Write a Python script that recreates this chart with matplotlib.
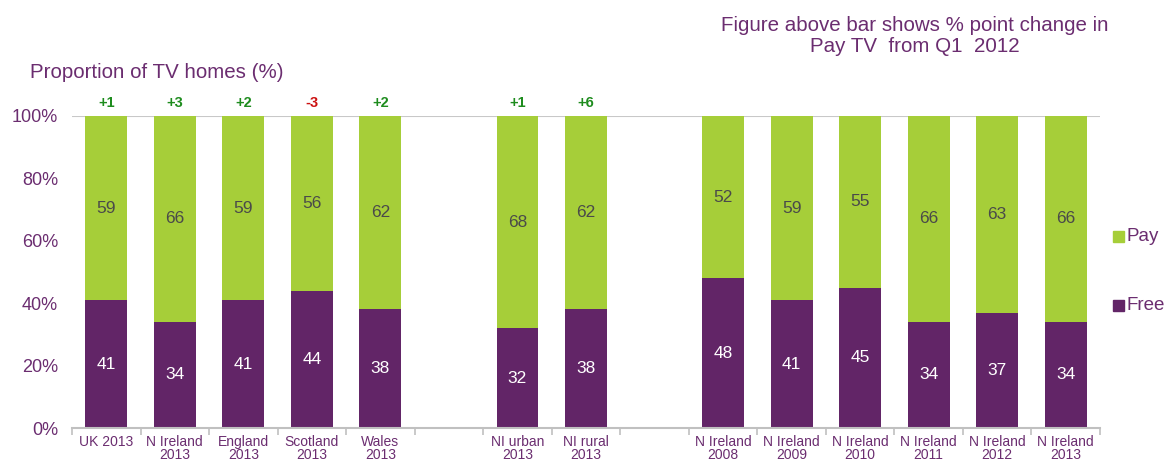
import matplotlib.pyplot as plt
import numpy as np

plt.rcParams['font.family'] = ['Liberation Sans', 'DejaVu Sans']

categories = ["UK 2013", "N Ireland\n2013", "England\n2013", "Scotland\n2013", "Wales\n2013",
              "", "NI urban\n2013", "NI rural\n2013", "",
              "N Ireland\n2008", "N Ireland\n2009", "N Ireland\n2010", "N Ireland\n2011",
              "N Ireland\n2012", "N Ireland\n2013"]
free = [41, 34, 41, 44, 38, None, 32, 38, None, 48, 41, 45, 34, 37, 34]
pay = [59, 66, 59, 56, 62, None, 68, 62, None, 52, 59, 55, 66, 63, 66]
change = ["+1", "+3", "+2", "-3", "+2", None, "+1", "+6", None, None, None, None, None, None, None]

PAY_COL = "#a6ce39"
FREE_COL = "#622567"
TXT_COL = "#6b2d70"

fig = plt.figure(figsize=(11.67, 4.61), dpi=100)
ax = fig.add_axes([72 / 1167, 33 / 461, 1028 / 1167, 312 / 461])

x = np.arange(len(categories))
for i in x:
    if free[i] is None:
        continue
    ax.bar(i, free[i], width=0.61, color=FREE_COL)
    ax.bar(i, pay[i], width=0.61, bottom=free[i], color=PAY_COL)
    ax.text(i, free[i] / 2, str(free[i]), ha='center', va='center', color='white', fontsize=12.5)
    ax.text(i, free[i] + pay[i] / 2, str(pay[i]), ha='center', va='center', color='#4a4a4a', fontsize=12.5)
    if change[i]:
        col = '#1e8c1e' if change[i].startswith('+') else '#cc1111'
        ax.text(i, 102, change[i], ha='center', va='bottom', color=col, fontsize=10.5, fontweight='bold')

ax.set_xlim(-0.5, len(categories) - 0.5)
ax.set_ylim(0, 100)
ax.set_yticks(range(0, 101, 20))
ax.set_yticklabels([f"{v}%" for v in range(0, 101, 20)], color=TXT_COL, fontsize=13)
ax.axhline(100, color='#c8c8c8', lw=1.5, zorder=0)

ax.set_xticks(x)
ax.set_xticklabels(categories, color=TXT_COL, fontsize=10, linespacing=0.88)
ax.set_xticks(np.arange(-0.5, len(categories), 1), minor=True)
ax.tick_params(axis='x', which='major', length=0, pad=5)
ax.tick_params(axis='x', which='minor', length=5, color='#c0c0c0', width=1.2)
ax.tick_params(axis='y', length=0, pad=10)

for s in ['top', 'right', 'left']:
    ax.spines[s].set_visible(False)
ax.spines['bottom'].set_color('#c0c0c0')
ax.spines['bottom'].set_linewidth(1.5)

fig.text(30 / 1167, 1 - 73 / 461, "Proportion of TV homes (%)", color=TXT_COL, fontsize=14.8, va='center')
fig.text(915 / 1167, 1 - 36 / 461, "Figure above bar shows % point change in\nPay TV  from Q1  2012",
         color=TXT_COL, fontsize=14.8, ha='center', va='center', linespacing=1.15)

# legend
fig.patches.append(plt.Rectangle((1113 / 1167, 1 - 242 / 461), 11 / 1167, 11 / 461,
                                 transform=fig.transFigure, color=PAY_COL))
fig.text(1127 / 1167, 1 - 236 / 461, "Pay", color=TXT_COL, fontsize=13.5, va='center')
fig.patches.append(plt.Rectangle((1113 / 1167, 1 - 311 / 461), 11 / 1167, 11 / 461,
                                 transform=fig.transFigure, color=FREE_COL))
fig.text(1127 / 1167, 1 - 305 / 461, "Free", color=TXT_COL, fontsize=13.5, va='center')

fig.savefig("out.png", dpi=100)
